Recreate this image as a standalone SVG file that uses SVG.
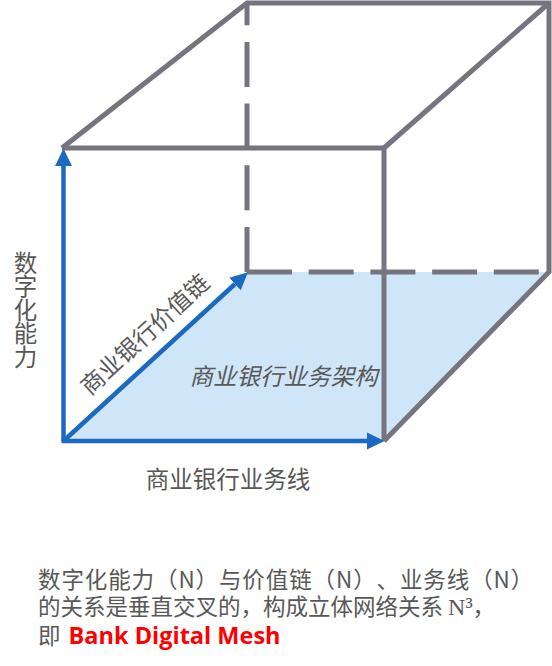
<svg xmlns="http://www.w3.org/2000/svg" width="552" height="666" viewBox="0 0 552 666">
  <style>
    .edge { fill: none; stroke: #76757f; stroke-width: 5; stroke-linejoin: miter; }
    .dash { fill: none; stroke: #76757f; stroke-width: 5; stroke-dasharray: 45 16.7; }
    .axis { fill: none; stroke: #1c69c2; stroke-width: 4.5; }
    .lbl { font-family: "Noto Sans CJK SC", "Noto Sans", sans-serif; font-size: 23.5px; fill: #585858; }
    .note { font-family: "Noto Sans CJK SC", "Noto Sans", sans-serif; font-size: 22.5px; fill: #585858; text-spacing-trim: space-all; font-kerning: none; }
  </style>
  <defs>
    <marker id="ah" markerUnits="userSpaceOnUse" markerWidth="18" markerHeight="18" refX="0" refY="8" orient="auto" viewBox="0 0 17 16">
      <path d="M0,0 L16.5,8 L0,16 Z" fill="#1c69c2"/>
    </marker>
  </defs>

  <g id="plane">
    <polygon points="63,441 384,441 549,272 247,272" fill="#cfe5f8"/>
  </g>

  <g id="cube">
    <path class="dash" d="M247,272 V3"/>
    <path class="dash" d="M247,272 H549"/>
    <path class="edge" d="M62,148 H384 V441"/>
    <path class="edge" d="M62,148 L247,3 H549 V272 L384,441"/>
    <path class="edge" d="M384,148 L549,3"/>
  </g>

  <g id="connectors">
    <line class="axis" x1="63.5" y1="441" x2="63.5" y2="166" marker-end="url(#ah)"/>
    <line class="axis" x1="61.5" y1="441" x2="367" y2="441" marker-end="url(#ah)"/>
    <line class="axis" x1="63.5" y1="441" x2="235" y2="284" marker-end="url(#ah)"/>
  </g>

  <g id="label-digital">
    <text class="lbl" x="25.5" y="251" style="writing-mode: vertical-rl;">数字化能力</text>
  </g>
  <g id="label-value-chain">
    <text class="lbl" x="0" y="0" dy="0.38em" text-anchor="middle" transform="translate(144.5,334) rotate(-42.6)">商业银行价值链</text>
  </g>
  <g id="label-architecture">
    <text class="lbl" x="283.5" y="385" text-anchor="middle" font-style="italic">商业银行业务架构</text>
  </g>
  <g id="label-business-line">
    <text class="lbl" x="228" y="488" text-anchor="middle">商业银行业务线</text>
  </g>

  <g id="note">
    <text class="note" x="38" y="588" letter-spacing="0.9">数字化能力（N）与价值链（N）、业务线（N）</text>
    <text class="note" x="38" y="615">的关系是垂直交叉的，构成立体网络关系 <tspan font-family="'Liberation Serif', serif" font-size="24">N³</tspan>，</text>
    <text class="note" x="38" y="644">即 <tspan dx="3" font-family="'Open Sans', 'Liberation Sans', sans-serif" font-weight="bold" font-size="23.5" fill="#ff0000">Bank Digital Mesh</tspan></text>
  </g>
</svg>
